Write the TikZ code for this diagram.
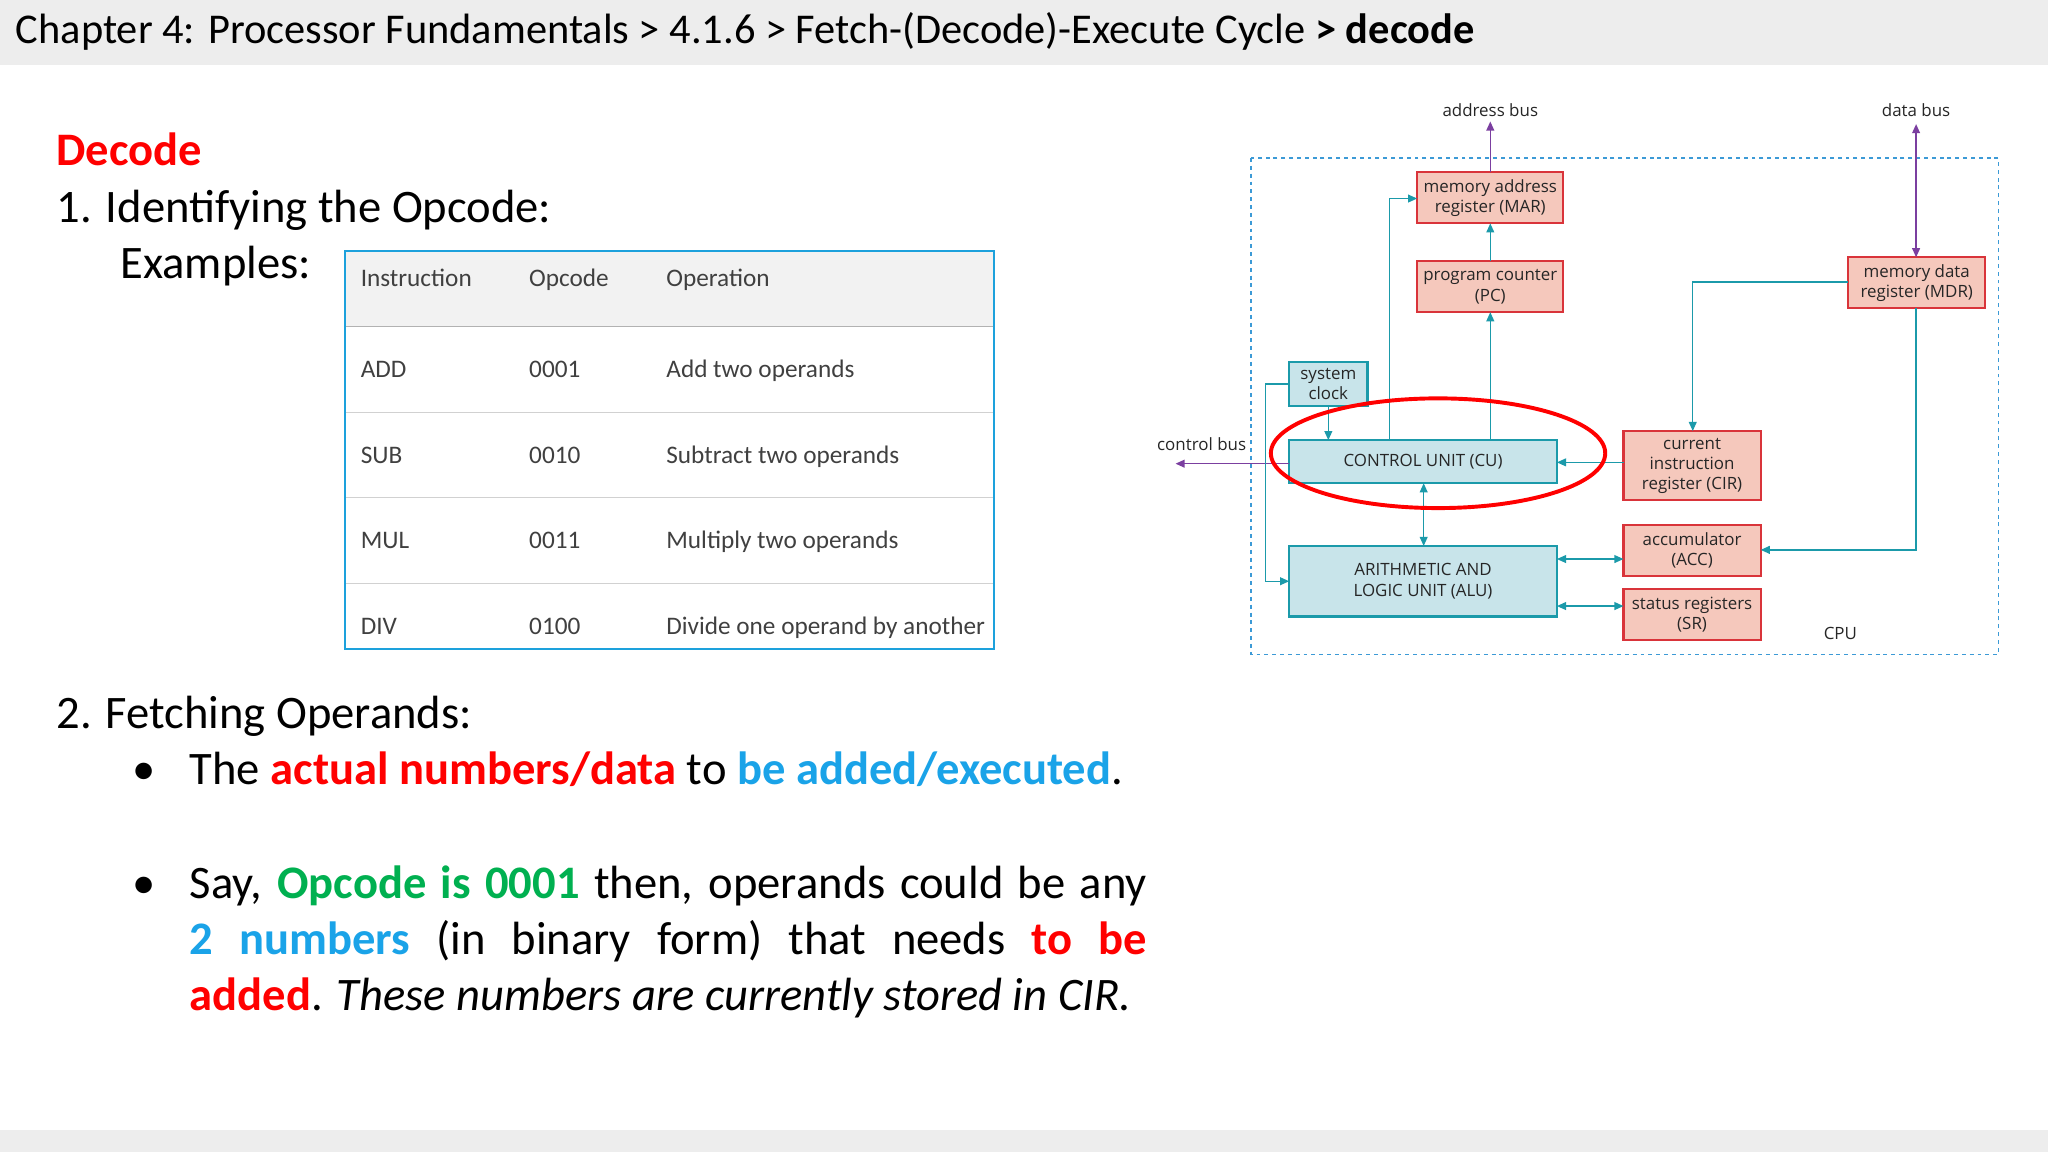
\documentclass[tikz,border=0pt]{standalone}
\usepackage{fontspec}
\setmainfont{Carlito}
\newfontfamily\dfont{Open Sans}
\usetikzlibrary{arrows.meta}
\definecolor{hdr}{HTML}{EDEDED}
\definecolor{tblue}{HTML}{1DA1DC}
\definecolor{ttxt}{HTML}{404040}
\definecolor{myred}{HTML}{FF0000}
\definecolor{myblue}{HTML}{1AA3E8}
\definecolor{mygreen}{HTML}{00B050}
\definecolor{teal}{HTML}{1B9AAA}
\definecolor{tealfill}{HTML}{C8E4EA}
\definecolor{redb}{HTML}{D9343A}
\definecolor{redfill}{HTML}{F5C8BC}
\definecolor{purp}{HTML}{7B3FA0}
\definecolor{dashcol}{HTML}{3C9AD6}
\tikzset{
 fs/.style={font=\fontsize{#1}{#1}\selectfont},
 txt/.style={anchor=base west,inner sep=0pt,fs=35.8},
 tb/.style={anchor=base west,inner sep=0pt,fs=19.4,text=ttxt},
 dl/.style={inner sep=0pt,font=\dfont\fontsize{13}{15.5}\selectfont,align=center,text=black!85},
 rbox/.style={draw=redb,fill=redfill,line width=1.6bp},
 cbox/.style={draw=teal,fill=tealfill,line width=1.8bp},
 tl/.style={draw=teal,line width=1.1bp},
 ta/.style={tl,-{Triangle[length=7bp,width=6bp]}},
 tab/.style={tl,{Triangle[length=7bp,width=6bp]}-{Triangle[length=7bp,width=6bp]}},
 pl/.style={draw=purp,line width=1.1bp,-{Triangle[length=7bp,width=6bp]}},
}
\begin{document}
\begin{tikzpicture}[x=1bp,y=-1bp]
\useasboundingbox (0,0) rectangle (1568,882);
\fill[white] (0,0) rectangle (1568,882);
\fill[hdr] (0,0) rectangle (1568,50);
\fill[hdr] (0,865) rectangle (1568,882);
\node[anchor=base west,inner sep=0pt,fs=32.6] (title) at (12,33) {Chapter 4: Processor Fundamentals > 4.1.6 > Fetch-(Decode)-Execute Cycle \textbf{> decode}};
\node[txt,text=myred] (dec) at (43,127) {\bfseries Decode};
\node[txt] (id) at (43,170) {1. Identifying the Opcode:};
\node[txt] (ex) at (92,213) {Examples:};
% table
\fill[black!5] (264,192) rectangle (761,250);
\draw[black!30,line width=0.8bp] (264,250) -- (761,250);
\foreach \y in {316,381,447} \draw[black!18,line width=0.8bp] (264,\y) -- (761,\y);
\draw[tblue,line width=1.2bp] (264,192) rectangle (761,497);
\node[tb] (h1) at (276,219) {Instruction};
\node[tb] (h2) at (405,219) {Opcode};
\node[tb] (h3) at (510,219) {Operation};
\node[tb] (r1a) at (276,289) {ADD};\node[tb] (r1b) at (405,289) {0001};\node[tb] (r1c) at (510,289) {Add two operands};
\node[tb] (r2a) at (276,355) {SUB};\node[tb] (r2b) at (405,355) {0010};\node[tb] (r2c) at (510,355) {Subtract two operands};
\node[tb] (r3a) at (276,420) {MUL};\node[tb] (r3b) at (405,420) {0011};\node[tb] (r3c) at (510,420) {Multiply two operands};
\node[tb] (r4a) at (276,486) {DIV};\node[tb] (r4b) at (405,486) {0100};\node[tb] (r4c) at (510,486) {Divide one operand by another};
% fetching
\node[txt] (fo) at (43,558) {2. Fetching Operands:};
\node[txt] (b1) at (101,601) {\textbullet};
\node[txt] (l1) at (145,601) {The \textcolor{myred}{\bfseries actual numbers/data} to \textcolor{myblue}{\bfseries be added/executed}.};
\node[txt] (b2) at (101,688) {\textbullet};
\node[txt] (l2) at (145,688) {\hbox to 733bp{Say, \textcolor{mygreen}{\bfseries Opcode is 0001} then, operands could be any}};
\node[txt] (l3) at (145,731) {\hbox to 733bp{\textcolor{myblue}{\bfseries 2}\hfil\textcolor{myblue}{\bfseries numbers}\hfil(in\hfil binary\hfil form)\hfil that\hfil needs\hfil\textcolor{myred}{\bfseries to}\hfil\textcolor{myred}{\bfseries be}}};
\node[txt] (l4) at (145,774) {\textcolor{myred}{\bfseries added}. \textit{These numbers are currently stored in CIR.}};
% diagram
\draw[dashcol,line width=1.3bp,dash pattern=on 3bp off 3bp] (958,121) rectangle (1530,501);
\node[dl] (cpu) at (1409,485) {CPU};
\draw[rbox] (1085,132) rectangle (1197,171) node[dl,midway] (mar) {memory address\\register (MAR)};
\draw[rbox] (1085,200) rectangle (1197,239) node[dl,midway] (pc) {program counter\\(PC)};
\draw[rbox] (1415,197) rectangle (1520,236) node[dl,midway] (mdr) {memory data\\register (MDR)};
\draw[cbox] (987,277) rectangle (1047,311) node[dl,midway] (clk) {system\\clock};
\draw[cbox] (987,337) rectangle (1192,370) node[dl,midway] (cu) {CONTROL UNIT (CU)};
\draw[rbox] (1243,330) rectangle (1348,383) node[dl,midway] (cir) {current\\instruction\\register (CIR)};
\draw[cbox] (987,418) rectangle (1192,472) node[dl,midway] (alu) {ARITHMETIC AND\\LOGIC UNIT (ALU)};
\draw[rbox] (1243,402) rectangle (1348,441) node[dl,midway] (acc) {accumulator\\(ACC)};
\draw[rbox] (1243,451) rectangle (1348,490) node[dl,midway] (sr) {status registers\\(SR)};
\node[dl] (ab) at (1141,84) {address bus};
\node[dl] (db) at (1467,84) {data bus};
\node[dl] (cb) at (920,340) {control bus};
\coordinate (abend) at (1141,93);
\coordinate (dbend) at (1467,95);
\coordinate (cbend) at (900,355);
\draw[pl] (1141,132) -- (abend);
\draw[draw=purp,line width=1.1bp,{Triangle[length=7bp,width=6bp]}-{Triangle[length=7bp,width=6bp]}] (dbend) -- (1467,197);
\draw[pl] (987,355) -- (cbend);
\draw[ta] (1141,200) -- (1141,171);
\draw[ta] (1141,337) -- (1141,239);
\draw[ta] (1064,337) -- (1064,152) -- (1085,152);
\draw[ta] (1415,216) -- (1296,216) -- (1296,330);
\draw[ta] (1467,236) -- (1467,421) -- (1348,421);
\draw[ta] (1243,354) -- (1192,354);
\draw[tab] (1090,370) -- (1090,418);
\draw[tab] (1192,428) -- (1243,428);
\draw[tab] (1192,464) -- (1243,464);
\draw[ta] (1017,311) -- (1017,337);
\draw[ta] (987,294) -- (969,294) -- (969,445) -- (987,445);
\draw[red,line width=3bp] (1101,347) ellipse [x radius=128, y radius=42];
\end{tikzpicture}
\end{document}
